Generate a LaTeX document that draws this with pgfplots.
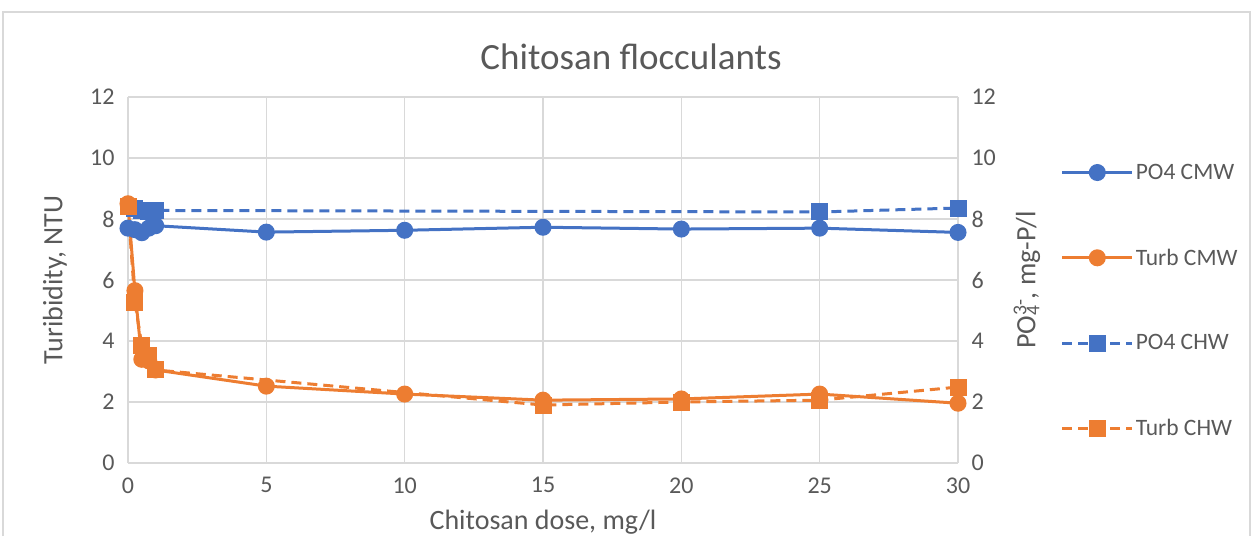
\documentclass[border=0pt]{standalone}
\usepackage{pgfplots}
\pgfplotsset{compat=1.18}
\usepackage{fontspec}
\setmainfont{Carlito}
\definecolor{cblue}{RGB}{68,114,196}
\definecolor{corange}{RGB}{237,125,49}
\definecolor{txt}{RGB}{89,89,89}
\definecolor{gridc}{RGB}{217,217,217}
\newcommand{\lgf}{\fontsize{23.5}{28}\selectfont}
\begin{document}
\begin{tikzpicture}
\path[use as bounding box] (0pt,0pt) rectangle (1255pt,536pt);
\draw[gridc, line width=1.5pt] (3pt,0pt) -- (3pt,524pt) -- (1250pt,524pt) -- (1250pt,0pt);
\node[txt, font=\fontsize{37}{44}\selectfont] at (631pt,479pt) {Chitosan flocculants};
\begin{axis}[
  at={(128pt,73pt)}, anchor=south west,
  width=830pt, height=366pt, scale only axis,
  xmin=0, xmax=30, ymin=0, ymax=12,
  xtick={0,5,...,30}, ytick={0,2,...,12},
  grid=major, grid style={gridc, line width=1.3pt},
  axis line style={draw=none},
  major tick length=0pt,
  tick label style={txt, font=\fontsize{24}{29}\selectfont},
  /pgf/number format/assume math mode=true,
  xticklabel style={yshift=-11pt},
  yticklabel style={xshift=-10pt},
  xlabel={Chitosan dose, mg/l},
  ylabel={Turibidity, NTU},
  label style={txt, font=\fontsize{28}{33}\selectfont},
  xlabel style={at={(axis description cs:0.5,-0.162)}, anchor=center},
  ylabel style={at={(axis description cs:-0.088,0.5)}, anchor=center},
  clip=false,
  legend style={at={(axis description cs:1.12,0.828)}, anchor=north west, draw=none, fill=none,
    font=\lgf, text=txt, row sep=64pt, nodes={inner sep=2pt}},
  legend cell align=left,
  legend image code/.code={\draw[mark repeat=2,mark phase=2] plot coordinates {(0pt,0pt)(35pt,0pt)(70pt,0pt)};},
]
\addplot[cblue, line width=3pt, mark=*, mark size=7pt, mark options={solid}] coordinates {
(0,7.7)(0.25,7.65)(0.5,7.55)(0.75,7.7)(1,7.78)(5,7.57)(10,7.63)(15,7.73)(20,7.67)(25,7.7)(30,7.56)};
\addlegendentry{\lgf PO4 CMW}
\addplot[corange, line width=3pt, mark=*, mark size=7pt, mark options={solid}] coordinates {
(0,8.5)(0.25,5.65)(0.5,3.4)(0.75,3.35)(1,3.05)(5,2.52)(10,2.26)(15,2.06)(20,2.1)(25,2.26)(30,1.96)};
\addlegendentry{\lgf Turb CMW}
\addplot[cblue, line width=3pt, dash pattern=on 10pt off 6pt, mark=square*, mark size=7pt, mark options={solid}] coordinates {
(0,8.4)(0.25,8.35)(0.5,8.27)(0.75,8.25)(1,8.28)(25,8.23)(30,8.36)};
\addlegendentry{\lgf PO4 CHW}
\addplot[corange, line width=3pt, dash pattern=on 10pt off 6pt, mark=square*, mark size=7pt, mark options={solid}] coordinates {
(0,8.4)(0.25,5.27)(0.5,3.85)(0.75,3.52)(1,3.05)(15,1.9)(20,2.0)(25,2.06)(30,2.49)};
\addlegendentry{\lgf Turb CHW}
\end{axis}
\begin{axis}[
  at={(128pt,73pt)}, anchor=south west,
  width=830pt, height=366pt, scale only axis,
  xmin=0, xmax=30, ymin=0, ymax=12,
  ytick={0,2,...,12},
  axis x line=none, axis y line*=right,
  axis line style={draw=none},
  major tick length=0pt,
  tick label style={txt, font=\fontsize{24}{29}\selectfont},
  /pgf/number format/assume math mode=true,
  yticklabel style={xshift=10pt},
  ylabel={PO\rlap{\textsubscript{4}}\textsuperscript{3-}, mg-P/l},
  label style={txt, font=\fontsize{28}{33}\selectfont},
  ylabel style={at={(axis description cs:1.083,0.5)}, anchor=center},
]
\end{axis}
\end{tikzpicture}
\end{document}
